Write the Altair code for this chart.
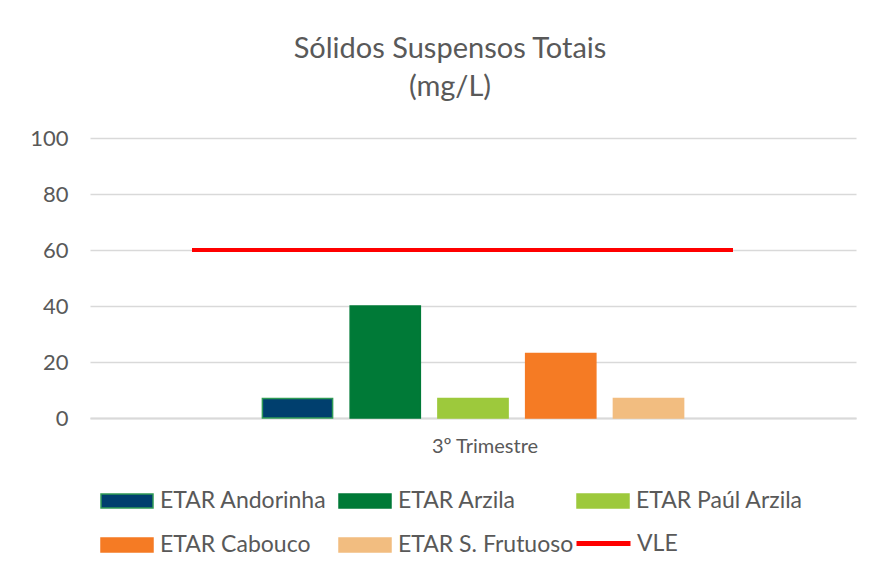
import altair as alt
import pandas as pd

category = ["3º Trimestre"]
series = ["ETAR Andorinha", "ETAR Arzila", "ETAR Paúl Arzila", "ETAR Cabouco", "ETAR S. Frutuoso"]
values = [7, 40, 7, 23, 7]
fills = ["#003f6e", "#007a37", "#9dc93c", "#f57b24", "#f2bd80"]
outlines = ["#2f9a55", "#007a37", "#9dc93c", "#f57b24", "#f2bd80"]
vle_name = ["VLE"]
vle_value = [60]

df = pd.DataFrame({"trimestre": category * len(series), "serie": series, "valor": values})
df_vle = pd.DataFrame({"trimestre": category, "nome": vle_name, "vle": vle_value})

FONT = "Lato"
TXT = "#595959"
GRID = "#d9d9d9"

x_enc = alt.X("trimestre:N", title=None,
              scale=alt.Scale(paddingInner=0, paddingOuter=0.3729),
              axis=alt.Axis(labelAngle=0, ticks=False, grid=False, domainColor=GRID, domainWidth=2,
                            labelFontSize=20, labelColor=TXT, labelPadding=18, labelOffset=12,
                            labelFont=FONT))
y_enc = alt.Y("valor:Q", title=None,
              scale=alt.Scale(domain=[0, 100], nice=False),
              axis=alt.Axis(values=[0, 20, 40, 60, 80, 100], ticks=False, domain=False,
                            gridColor=GRID, gridWidth=1.5, labelFontSize=22, labelColor=TXT,
                            labelPadding=22, labelFont=FONT))

legend = alt.Legend(
    title=None, orient="none", legendX=10, legendY=336, columns=3, gridAlign="all",
    direction="horizontal",
    columnPadding=0, rowPadding=5, labelFontSize=23, labelColor=TXT, labelFont=FONT,
    labelOffset=6, symbolSize=2704, labelLimit=400, symbolStrokeWidth=1.5,
    symbolType="M-1,-0.27H1V0.27H-1Z",
)

bars = alt.Chart(df).mark_bar(strokeWidth=1.5).encode(
    x=x_enc,
    xOffset=alt.XOffset("serie:N", sort=series,
                        scale=alt.Scale(paddingInner=0.2, paddingOuter=0.1)),
    y=y_enc,
    fill=alt.Fill("serie:N", sort=series, scale=alt.Scale(domain=series, range=fills), legend=legend),
    stroke=alt.Stroke("serie:N", sort=series, scale=alt.Scale(domain=series, range=outlines), legend=legend),
)

rule = alt.Chart(df_vle).mark_rule(color="#ff0000", strokeWidth=4).encode(
    y=alt.Y("vle:Q"),
    x=alt.value(102),
    x2=alt.value(643),
    strokeDash=alt.StrokeDash("nome:N", scale=alt.Scale(domain=vle_name, range=[[1, 0]]),
                              legend=alt.Legend(title=None, orient="none", legendX=484, legendY=376,
                                                labelFontSize=23, labelColor=TXT, labelFont=FONT,
                                                labelOffset=4, symbolType="stroke", symbolSize=2916,
                                                symbolStrokeColor="#ff0000", symbolStrokeWidth=5)),
)

chart = alt.layer(bars, rule).properties(
    width=766, height=280,
    autosize="none",
    padding={"left": 82, "top": 130, "right": 6, "bottom": 147},
    title=alt.TitleParams(["Sólidos Suspensos Totais", "(mg/L)"], fontSize=29, font=FONT,
                          fontWeight="normal", color=TXT, lineHeight=38, dx=-23, offset=25,
                          anchor="middle"),
).configure(background="white").configure_view(stroke=None)

chart.save("out.html", embed_options={"renderer": "svg", "actions": False})
